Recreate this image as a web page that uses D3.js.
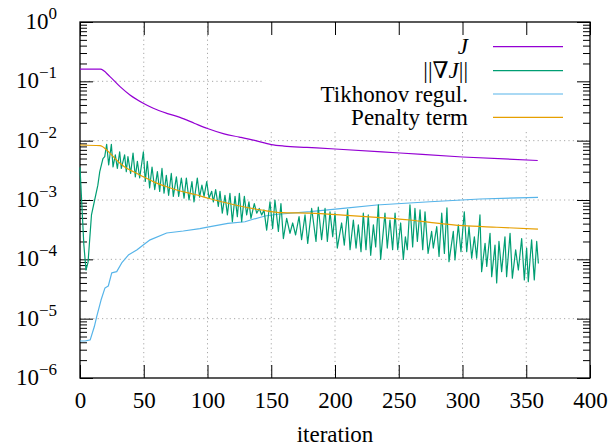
<!DOCTYPE html>
<html>
<head>
<meta charset="utf-8">
<script src="https://cdn.jsdelivr.net/npm/d3@7"></script>
<style>
  html, body { margin: 0; padding: 0; background: #fff; }
  svg { display: block; }
  svg text { font-family: "Liberation Serif", "Times New Roman", Times, "Nimbus Roman", "Nimbus Roman No9 L", "Tinos", "Noto Serif", "DejaVu Serif", "FreeSerif", serif !important; fill: #000; }
</style>
</head>
<body>
<svg id="chart" width="610" height="447"></svg>
<script>
// ---------------- data ----------------
const xTicks = [0, 50, 100, 150, 200, 250, 300, 350, 400];
const yTickExponents = [-6, -5, -4, -3, -2, -1, 0];
const xLabel = "iteration";

const jIter = [0, 16, 23.5, 31.4, 39.2, 49.6, 57.5, 68, 78.4, 90, 100, 113, 125, 137, 150, 160, 178, 200, 251, 300, 359];
const jVal  = [0.16, 0.16, 0.12, 0.0813, 0.0589, 0.0427, 0.0351, 0.0289, 0.0247, 0.0195, 0.0160, 0.0130, 0.0115, 0.0101, 0.0086, 0.0081, 0.0077, 0.00724, 0.00619, 0.00531, 0.00463];

const penIter = [0, 15.7, 20.9, 26.1, 31.4, 36.6, 41.8, 49.6, 57.5, 68, 78.4, 90.2, 100.6, 121.6, 142.5, 158.2, 180.4, 206.3, 232.7, 258.8, 274.5, 300.4, 327, 359.2];
const penVal  = [0.00845, 0.00822, 0.00697, 0.00537, 0.00416, 0.00342, 0.0030, 0.00247, 0.00204, 0.00167, 0.00142, 0.00124, 0.00107, 8.24e-4, 6.78e-4, 6.11e-4, 6.0e-4, 5.58e-4, 5.1e-4, 4.6e-4, 4.2e-4, 3.69e-4, 3.47e-4, 3.24e-4];

const tikIter = [0, 4, 8, 11.2, 13.1, 16.5, 19.6, 22.2, 24.9, 28.8, 32.7, 37.9, 44.5, 49.6, 55, 68, 81, 94, 100, 116, 129.4, 135.7, 145.1, 155.3, 180.4, 206.3, 232.7, 274.5, 313.7, 359.2];
const tikVal  = [4.2e-6, 4.2e-6, 4.4e-6, 7.3e-6, 1.08e-5, 2.06e-5, 3.3e-5, 3.55e-5, 5.9e-5, 6.2e-5, 8.7e-5, 1.18e-4, 1.44e-4, 1.75e-4, 2.13e-4, 2.78e-4, 3.0e-4, 3.3e-4, 3.5e-4, 4.05e-4, 4.3e-4, 4.73e-4, 5.37e-4, 5.75e-4, 6.35e-4, 7.24e-4, 8.24e-4, 9.35e-4, 1.04e-3, 1.11e-3];

const gradIter = [0, 1.5, 3, 4.7, 6.3, 9, 11.5, 14, 15.5, 18, 19.4, 20.9, 22.5, 24.6, 25.9, 27.7, 29.3, 31.1, 32.4, 35.0, 36.3, 37.6, 39.7, 41.6, 43.4, 45, 46.8, 49.7, 51.2, 52.8, 54.6, 56.5, 58.6, 60.7, 62.5, 64.3, 65.9, 67.7, 69.5, 71.6, 73.2, 75.6, 77.4, 79.5, 81.6, 83.4, 85.5, 87.8, 89.4, 92,
  93.8, 95.6, 97.3, 99.4, 101.2, 103.3, 104.6, 106.4, 108.5, 109.8, 111.6, 113.7, 115.6, 117.6, 119.5, 121.6, 123.4, 125, 126.8, 128.9, 130.7, 132.5, 134.1, 136.7, 138.6, 140.6, 142.5, 144.3, 146.4, 149, 151.1, 152.9, 155.6, 157.6, 159.5, 162.1, 164.7, 166.8, 169.1, 171.8, 173.8, 176.5, 178.6, 181.7,
  185.1, 186.9, 189.5, 192.2, 194, 196.1, 198.2, 200, 201.8, 205.2, 207.3, 209.9, 211.8, 214.4, 216.5, 218.3, 220.4, 222.2, 224.3, 226.1, 228, 230.1, 231.9, 234, 235.8, 239.2, 241, 243.1, 245.2, 247.1, 249.2, 251.5, 253.6, 255.2, 256.7, 258.8, 260.9, 262.7, 264.6, 266.7, 268.8, 270.6, 273,
  275.8, 277.1, 279.8, 281.6, 283.7, 285.8, 287.8, 289.4, 292.8, 294.1, 296.7, 298.8, 301.4, 303.3, 305.1, 307.2, 309.3, 311.1, 313.7, 315, 317.7, 319, 321.6, 322.9, 325.5, 326.8, 328.6, 330.7, 333.3, 334.6, 337.3, 339.1, 341.7, 343.8, 346.4, 348.5, 350.3, 351.6, 354.2, 356.3, 358.2, 359.5];
const gradVal = [3.55e-3, 7.9e-4, 1.78e-4, 6.6e-5, 8.9e-5, 5.6e-4, 1.0e-3, 1.78e-3, 3.0e-3, 5.0e-3, 5.4e-3, 8.7e-3, 3.9e-3, 8.7e-3, 3.6e-3, 5.75e-3, 3.4e-3, 6.5e-3, 3.4e-3, 5.75e-3, 3.0e-3, 5.4e-3, 2.8e-3, 6.2e-3, 2.45e-3, 4.5e-3, 2.35e-3, 6.5e-3, 2.05e-3, 4.5e-3, 1.6e-3, 3.6e-3, 1.5e-3, 3.0e-3, 1.4e-3, 3.4e-3, 1.3e-3, 2.6e-3, 1.2e-3, 2.8e-3, 1.15e-3, 2.45e-3, 1.15e-3, 2.35e-3, 1.07e-3, 2.35e-3, 1.0e-3, 2.05e-3, 9.3e-4, 2.35e-3,
  1.12e-3, 1.78e-3, 1.15e-3, 2.05e-3, 1.07e-3, 1.4e-3, 9.3e-4, 1.5e-3, 7.8e-4, 1.4e-3, 6.0e-4, 1.2e-3, 5.6e-4, 1.3e-3, 4.3e-4, 1.15e-3, 5.25e-4, 1.3e-3, 4.3e-4, 1.15e-3, 5.6e-4, 9.3e-4, 4.9e-4, 8.7e-4, 6.0e-4, 7.2e-4, 5.6e-4, 6.8e-4, 3.1e-4, 9.3e-4, 3.3e-4, 1.0e-3, 2.95e-4, 8.7e-4, 2.24e-4, 4.9e-4, 2.75e-4, 4.1e-4, 2.57e-4, 5.25e-4, 2.14e-4, 5.6e-4, 1.86e-4, 7.2e-4,
  2.0e-4, 7.6e-4, 2.14e-4, 7.2e-4, 2.0e-4, 6.3e-4, 2.4e-4, 6.0e-4, 1.55e-4, 4.1e-4, 1.74e-4, 6.9e-4, 1.45e-4, 4.6e-4, 1.55e-4, 3.8e-4, 1.35e-4, 6.0e-4, 1.45e-4, 5.6e-4, 1.17e-4, 3.8e-4, 1.62e-4, 8.3e-4, 1.0e-4, 6.0e-4, 1.55e-4, 4.6e-4, 1.45e-4, 6.0e-4, 1.45e-4, 4.1e-4, 1.0e-4, 2.4e-4, 1.45e-4, 8.3e-4, 1.62e-4, 7.2e-4, 2.0e-4, 6.8e-4, 1.45e-4, 6.3e-4, 1.26e-4,
  2.95e-4, 1.55e-4, 3.55e-4, 1.12e-4, 6.0e-4, 1.26e-4, 7.4e-4, 9.1e-5, 2.95e-4, 9.8e-5, 3.8e-4, 1.35e-4, 6.3e-4, 1.35e-4, 3.55e-4, 1.05e-4, 2.4e-4, 1.05e-4, 5.6e-4, 6.2e-5, 1.86e-4, 7.6e-5, 2.75e-4, 5.1e-5, 1.74e-4, 4.0e-5, 2.0e-4, 6.2e-5, 2.4e-4, 5.1e-5, 2.75e-4, 4.8e-5, 1.45e-4, 6.6e-5, 2.24e-4, 4.5e-5, 1.55e-4, 4.2e-5, 2.14e-4, 4.5e-5, 2.0e-4, 8.5e-5];

const seriesNames = ["J", "||∇J||", "Tikhonov regul.", "Penalty term"];
const seriesColors = ["#9400d3", "#009e73", "#56b4e9", "#e69f00"];

// ---------------- layout ----------------
const svg = d3.select("#chart");
const L = 80, R = 590, T = 22, B = 378;
const FS = 23;

const x = d3.scaleLinear().domain([0, 400]).range([L, R]);
const y = d3.scaleLog().domain([1e-6, 1]).range([B, T]);

const yMajor = yTickExponents.map(e => Math.pow(10, e));
const yMinor = [];
yTickExponents.slice(0, -1).forEach(e => {
  for (let m = 2; m <= 9; m++) yMinor.push(m * Math.pow(10, e));
});

// grid
const grid = svg.append("g").attr("stroke", "#a8a8a8").attr("stroke-width", 1)
  .attr("stroke-dasharray", "1.2,3.2");
grid.selectAll(".gx").data(xTicks.slice(1, -1)).join("line")
  .attr("x1", d => x(d)).attr("x2", d => x(d)).attr("y1", T).attr("y2", B);
grid.selectAll(".gy").data(yMajor.slice(1, -1)).join("line")
  .attr("x1", L).attr("x2", R).attr("y1", d => y(d)).attr("y2", d => y(d));

// legend background (opaque box)
svg.append("rect").attr("x", 263).attr("y", T + 1).attr("width", R - 263 - 1).attr("height", 108)
  .attr("fill", "#fff");

// axes
function styleAxis(g) {
  g.attr("font-family", null).attr("font-size", null);
  g.select(".domain").remove();
  g.selectAll(".tick line").attr("stroke", "#000").attr("stroke-width", 1);
}
const majorLen = 13, minorLen = 7;

svg.append("g").attr("transform", `translate(0,${B})`)
  .call(d3.axisBottom(x).tickValues(xTicks).tickSize(-majorLen).tickFormat(d3.format("d")))
  .call(styleAxis)
  .call(g => g.selectAll(".tick text")
    .attr("y", 30).attr("dy", null)
    .attr("font-size", FS).attr("fill", "#000"));

svg.append("g").attr("transform", `translate(0,${T})`)
  .call(d3.axisTop(x).tickValues(xTicks).tickSize(-majorLen).tickFormat(""))
  .call(styleAxis);

const leftAxis = svg.append("g").attr("transform", `translate(${L},0)`)
  .call(d3.axisLeft(y).tickValues(yMajor).tickSize(-majorLen).tickFormat(""))
  .call(styleAxis);
svg.append("g").attr("transform", `translate(${L},0)`)
  .call(d3.axisLeft(y).tickValues(yMinor).tickSize(-minorLen).tickFormat(""))
  .call(styleAxis);
svg.append("g").attr("transform", `translate(${R},0)`)
  .call(d3.axisRight(y).tickValues(yMajor).tickSize(-majorLen).tickFormat(""))
  .call(styleAxis);
svg.append("g").attr("transform", `translate(${R},0)`)
  .call(d3.axisRight(y).tickValues(yMinor).tickSize(-minorLen).tickFormat(""))
  .call(styleAxis);

// y tick labels 10^e
leftAxis.selectAll(".tick").each(function (d) {
  const e = Math.round(Math.log10(d));
  const t = d3.select(this).select("text");
  t.attr("x", -23).attr("dy", null).attr("y", 6.5)
    .attr("text-anchor", "end").attr("font-size", FS).attr("fill", "#000").text(null);
  t.append("tspan").text("10");
  t.append("tspan").attr("dy", -10).attr("font-size", 17)
    .text(e < 0 ? "\u2212" + Math.abs(e) : String(e));
});

// frame
svg.append("rect").attr("x", L).attr("y", T).attr("width", R - L).attr("height", B - T)
  .attr("fill", "none").attr("stroke", "#000").attr("stroke-width", 1.3);

// x label
svg.append("text").attr("x", (L + R) / 2).attr("y", 442).attr("text-anchor", "middle")
  .attr("font-size", FS).text(xLabel);

// data lines
const smooth = d3.line().x(d => x(d[0])).y(d => y(d[1])).curve(d3.curveMonotoneX);
const straight = d3.line().x(d => x(d[0])).y(d => y(d[1]));
const plotG = svg.append("g").attr("fill", "none").attr("stroke-width", 1.2)
  .attr("stroke-linejoin", "round");

plotG.append("path").attr("d", straight(d3.zip(tikIter, tikVal))).attr("stroke", seriesColors[2]);
plotG.append("path").attr("d", straight(d3.zip(gradIter, gradVal))).attr("stroke", seriesColors[1]);
plotG.append("path").attr("d", smooth(d3.zip(penIter, penVal))).attr("stroke", seriesColors[3]);
plotG.append("path").attr("d", smooth(d3.zip(jIter, jVal))).attr("stroke", seriesColors[0]);

// legend
const legY = [46.7, 70.7, 94, 117.3];
const leg = svg.append("g");
seriesNames.forEach((name, i) => {
  const t = leg.append("text").attr("x", 468).attr("y", legY[i] + 7.5)
    .attr("text-anchor", "end").attr("font-size", FS);
  if (i === 0) {
    t.append("tspan").attr("font-style", "italic").text("J");
  } else if (i === 1) {
    t.append("tspan").text("||\u2207");
    t.append("tspan").attr("font-style", "italic").text("J");
    t.append("tspan").text("||");
  } else {
    t.text(name);
  }
  leg.append("line").attr("x1", 493).attr("x2", 563).attr("y1", legY[i]).attr("y2", legY[i])
    .attr("stroke", seriesColors[i]).attr("stroke-width", 1.2);
});
</script>
</body>
</html>
